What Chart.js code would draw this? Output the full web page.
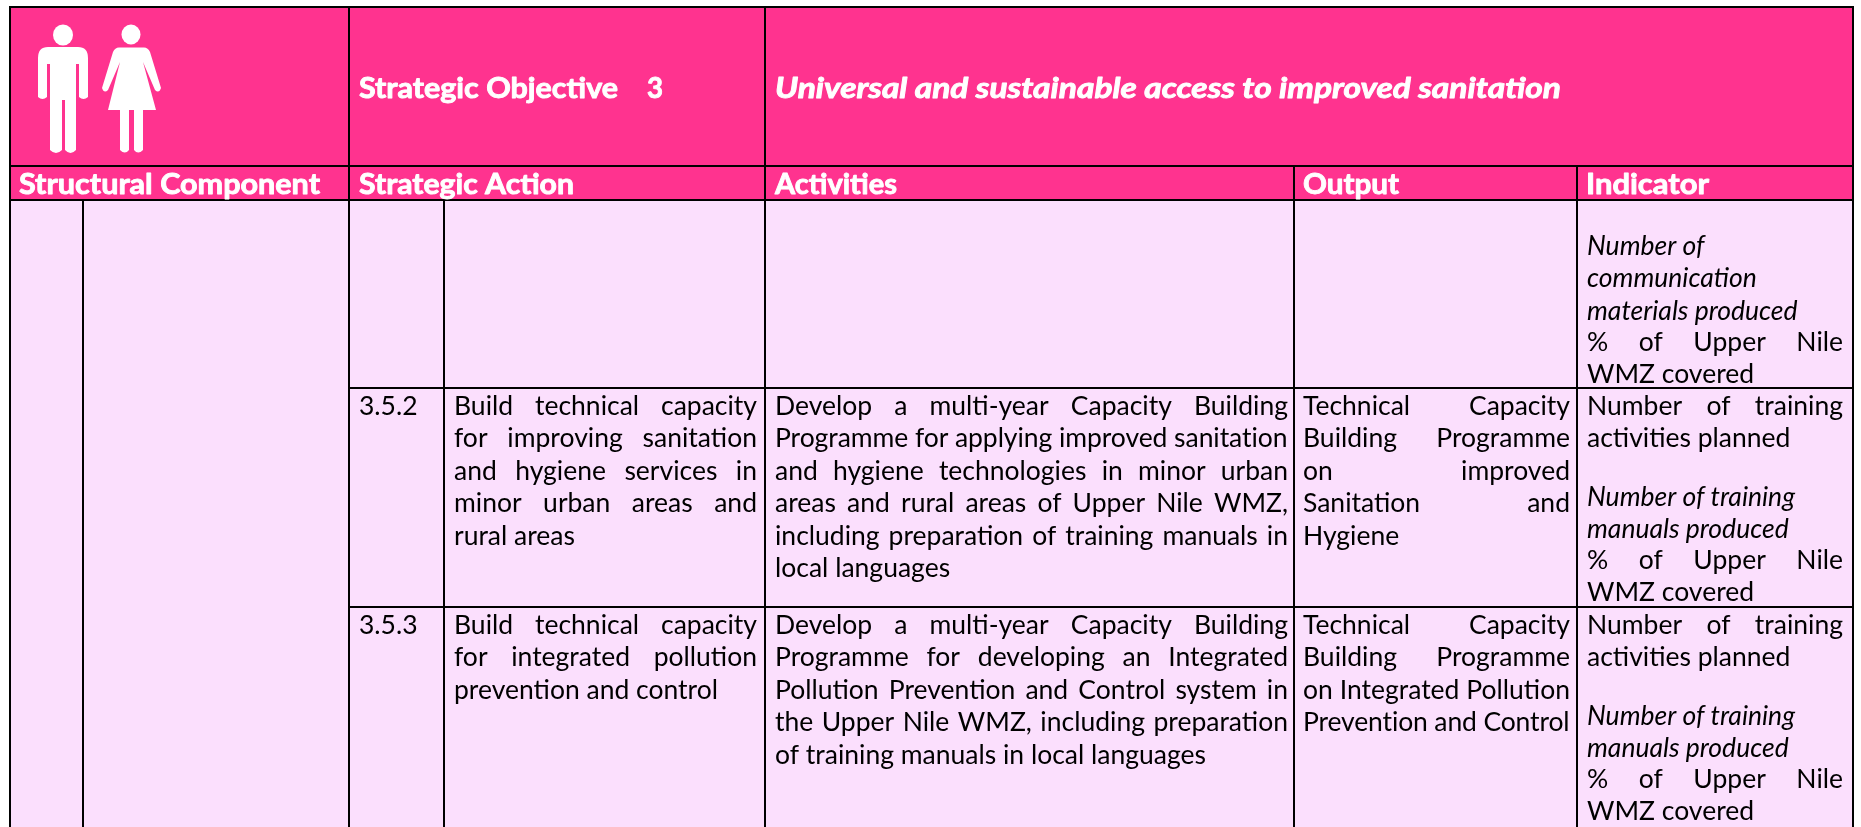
<!DOCTYPE html>
<html>
<head>
<meta charset="utf-8">
<title>Strategic Objective 3</title>
<script src="https://cdn.jsdelivr.net/npm/chart.js@4/dist/chart.umd.js"></script>
<style>
  html, body { margin: 0; padding: 0; background: #fff; }
  canvas { display: block; }
</style>
</head>
<body>
<canvas id="tableChart" width="1861" height="827"></canvas>
<script>
// table text
const objectiveLabel = 'Strategic Objective';
const objectiveNumber = '3';
const objectiveTitle = 'Universal and sustainable access to improved sanitation';
const columnHeads = ['Structural Component', 'Strategic Action', 'Activities', 'Output', 'Indicator'];
const actionCodes = ['3.5.2', '3.5.3'];

const action352 = ['Build technical capacity', 'for improving sanitation', 'and hygiene services in', 'minor urban areas and', 'rural areas'];
const action353 = ['Build technical capacity', 'for integrated pollution', 'prevention and control'];
const activity352 = ['Develop a multi-year Capacity Building', 'Programme for applying improved sanitation', 'and hygiene technologies in minor urban', 'areas and rural areas of Upper Nile WMZ,', 'including preparation of training manuals in', 'local languages'];
const activity353 = ['Develop a multi-year Capacity Building', 'Programme for developing an Integrated', 'Pollution Prevention and Control system in', 'the Upper Nile WMZ, including preparation', 'of training manuals in local languages'];
const output352 = ['Technical Capacity', 'Building Programme', 'on improved', 'Sanitation and', 'Hygiene'];
const output353 = ['Technical Capacity', 'Building Programme', 'on Integrated Pollution', 'Prevention and Control'];
const indicatorComms = ['Number of', 'communication', 'materials produced'];
const indicatorTraining = ['Number of training', 'activities planned'];
const indicatorManuals = ['Number of training', 'manuals produced'];
const indicatorCoverage = ['% of Upper Nile', 'WMZ covered'];

// table grid, in scale units
const colEdges = [10, 83, 349, 444, 765, 1294, 1577, 1853];
const rowEdges = [7, 166, 200, 388, 607, 827];

const PINK = '#FF338F';
const LILAC = '#FBDFFD';
const BODY_FONT = 'Lato';
const SIZE = 26.5;
const STEP = 32.4;

const ruleLine = (x1, y1, x2, y2) => ({
    data: [{x: x1, y: y1}, {x: x2, y: y2}],
    borderColor: '#000',
    borderWidth: 2,
    pointRadius: 0,
    fill: false
});
const cellFill = (x1, y1, x2, y2, color) => ({
    data: [{x: x1, y: y1}, {x: x2, y: y1}, {x: x2, y: y2}, {x: x1, y: y2}, {x: x1, y: y1}],
    borderWidth: 0,
    pointRadius: 0,
    backgroundColor: color,
    fill: 'shape'
});

const [c0, c1, c2, c3, c4, c5, c6, c7] = colEdges;
const [r0, r1, r2, r3, r4, r5] = rowEdges;

// first dataset is painted last, so rules go before the fills
const datasets = [
    ruleLine(c0 - 1, r0, c7 + 1, r0),
    ruleLine(c0, r1, c7, r1),
    ruleLine(c0, r2, c7, r2),
    ruleLine(c2, r3, c7, r3),
    ruleLine(c2, r4, c7, r4),
    ruleLine(c0, r0, c0, r5),
    ruleLine(c1, r2, c1, r5),
    ruleLine(c2, r0, c2, r5),
    ruleLine(c3, r2, c3, r5),
    ruleLine(c4, r0, c4, r5),
    ruleLine(c5, r1, c5, r5),
    ruleLine(c6, r1, c6, r5),
    ruleLine(c7, r0, c7, r5),
    cellFill(c0, r0, c7, r2, PINK),
    cellFill(c0, r2, c7, r5, LILAC)
];

// stretch or squeeze a line to end at `right`: word gaps when there is room, letters when not
function textLine(ctx, text, x, y, right) {
    ctx.wordSpacing = '0px';
    ctx.letterSpacing = '0px';
    if (right) {
        const gaps = text.split(' ').length - 1;
        const extra = right - x - ctx.measureText(text).width;
        if (extra < 0 || gaps === 0) {
            ctx.letterSpacing = (extra / (text.length - 1)) + 'px';
        } else {
            ctx.wordSpacing = (extra / gaps) + 'px';
        }
    }
    ctx.fillText(text, x, y);
    ctx.wordSpacing = '0px';
    ctx.letterSpacing = '0px';
}

// heading: widened to end at `right` and thickened, the heading face is heavier than Lato bold
function headLine(ctx, text, x, y, right) {
    const stretch = (right - x) / ctx.measureText(text).width;
    ctx.save();
    ctx.translate(x, y);
    ctx.scale(stretch, 1);
    ctx.strokeStyle = '#fff';
    ctx.lineWidth = 0.9;
    ctx.lineJoin = 'round';
    ctx.strokeText(text, 0, 0);
    ctx.fillText(text, 0, 0);
    ctx.restore();
}

// lines = text, justified = how many lines from the top fill the cell width
function textBlock(ctx, scales, lines, x, right, y, justified, italic) {
    ctx.font = (italic ? 'italic ' : '') + SIZE + 'px ' + BODY_FONT;
    ctx.fillStyle = '#000';
    lines.forEach((line, i) => {
        const isJust = i < justified && line.includes(' ');
        textLine(ctx, line, scales.x.getPixelForValue(x), scales.y.getPixelForValue(y + i * STEP),
            isJust ? scales.x.getPixelForValue(right) : null);
    });
}

function drawPeople(ctx, scales) {
    const px = v => scales.x.getPixelForValue(v);
    const py = v => scales.y.getPixelForValue(v);
    ctx.fillStyle = '#fff';

    // man
    ctx.beginPath();
    ctx.ellipse(px(63), py(35), 10, 10.5, 0, 0, Math.PI * 2);
    ctx.fill();
    ctx.beginPath();
    ctx.moveTo(px(38), py(97));
    ctx.lineTo(px(38), py(58));
    ctx.quadraticCurveTo(px(38), py(47), px(48), py(47));
    ctx.lineTo(px(78), py(47));
    ctx.quadraticCurveTo(px(88), py(47), px(88), py(58));
    ctx.lineTo(px(88), py(97));
    ctx.quadraticCurveTo(px(83.5), py(101), px(79), py(97));
    ctx.lineTo(px(79), py(64));
    ctx.lineTo(px(76), py(64));
    ctx.lineTo(px(76), py(150));
    ctx.quadraticCurveTo(px(70.5), py(156), px(65), py(150));
    ctx.lineTo(px(65), py(100));
    ctx.lineTo(px(62), py(100));
    ctx.lineTo(px(62), py(150));
    ctx.quadraticCurveTo(px(56), py(156), px(50), py(150));
    ctx.lineTo(px(50), py(64));
    ctx.lineTo(px(47), py(64));
    ctx.lineTo(px(47), py(97));
    ctx.quadraticCurveTo(px(42.5), py(101), px(38), py(97));
    ctx.fill();

    // woman
    ctx.beginPath();
    ctx.ellipse(px(131), py(34.5), 9.5, 10, 0, 0, Math.PI * 2);
    ctx.fill();
    ctx.beginPath();
    ctx.moveTo(px(102), py(88));
    ctx.lineTo(px(113), py(52));
    ctx.quadraticCurveTo(px(115), py(47.5), px(119), py(47.5));
    ctx.lineTo(px(144), py(47.5));
    ctx.quadraticCurveTo(px(148), py(47.5), px(150), py(52));
    ctx.lineTo(px(161), py(88));
    ctx.quadraticCurveTo(px(159), py(94), px(155), py(90));
    ctx.lineTo(px(143), py(62));
    ctx.lineTo(px(156), py(110));
    ctx.lineTo(px(143), py(110));
    ctx.lineTo(px(143), py(150));
    ctx.quadraticCurveTo(px(138), py(155), px(134), py(150));
    ctx.lineTo(px(134), py(110));
    ctx.lineTo(px(129), py(110));
    ctx.lineTo(px(129), py(150));
    ctx.quadraticCurveTo(px(125), py(155), px(120), py(150));
    ctx.lineTo(px(120), py(110));
    ctx.lineTo(px(108), py(110));
    ctx.lineTo(px(120), py(62));
    ctx.lineTo(px(108), py(90));
    ctx.quadraticCurveTo(px(104), py(94), px(102), py(88));
    ctx.fill();
}

const tableText = {
    id: 'tableText',
    afterDatasetsDraw(chart) {
        const ctx = chart.ctx;
        const scales = chart.scales;
        const px = v => scales.x.getPixelForValue(v);
        const py = v => scales.y.getPixelForValue(v);
        ctx.save();
        ctx.textBaseline = 'alphabetic';

        drawPeople(ctx, scales);

        // pink headers
        ctx.fillStyle = '#fff';
        ctx.font = 'bold 29px ' + BODY_FONT;
        headLine(ctx, objectiveLabel, px(359), py(98), px(618));
        headLine(ctx, objectiveNumber, px(647), py(98), px(663));
        ctx.font = 'italic bold 29px ' + BODY_FONT;
        headLine(ctx, objectiveTitle, px(775), py(98), px(1561));
        ctx.font = 'bold 29px ' + BODY_FONT;
        const headX = [19, 359, 775, 1303, 1586];
        const headEnd = [320, 574, 897, 1399, 1709];
        columnHeads.forEach((h, i) => headLine(ctx, h, px(headX[i]), py(194), px(headEnd[i])));

        // row 3.5.1 (carried over from the previous page)
        textBlock(ctx, scales, indicatorComms, 1587, 1843, 255, 0, true);
        textBlock(ctx, scales, indicatorCoverage, 1587, 1843, 351, 1, false);

        // row 3.5.2
        textBlock(ctx, scales, [actionCodes[0]], 359, 440, 415, 0);
        textBlock(ctx, scales, action352, 454, 757, 415, 4);
        textBlock(ctx, scales, activity352, 775, 1288, 415, 5);
        textBlock(ctx, scales, output352, 1303, 1570, 415, 4);
        textBlock(ctx, scales, indicatorTraining, 1587, 1843, 415, 1);
        textBlock(ctx, scales, indicatorManuals, 1587, 1843, 506, 0, true);
        textBlock(ctx, scales, indicatorCoverage, 1587, 1843, 569, 1);

        // row 3.5.3
        textBlock(ctx, scales, [actionCodes[1]], 359, 440, 634, 0);
        textBlock(ctx, scales, action353, 454, 757, 634, 2);
        textBlock(ctx, scales, activity353, 775, 1288, 634, 4);
        textBlock(ctx, scales, output353, 1303, 1570, 634, 4);
        textBlock(ctx, scales, indicatorTraining, 1587, 1843, 634, 1);
        textBlock(ctx, scales, indicatorManuals, 1587, 1843, 725, 0, true);
        textBlock(ctx, scales, indicatorCoverage, 1587, 1843, 788, 1);

        ctx.restore();
    }
};

new Chart(document.getElementById('tableChart').getContext('2d'), {
    type: 'scatter',
    data: {datasets},
    plugins: [tableText],
    options: {
        responsive: false,
        animation: false,
        showLine: true,
        layout: {padding: 0},
        plugins: {legend: {display: false}, tooltip: {enabled: false}},
        scales: {
            x: {type: 'linear', min: 0, max: 1861, display: false},
            y: {type: 'linear', min: 0, max: 827, reverse: true, display: false}
        }
    }
});
</script>
</body>
</html>
